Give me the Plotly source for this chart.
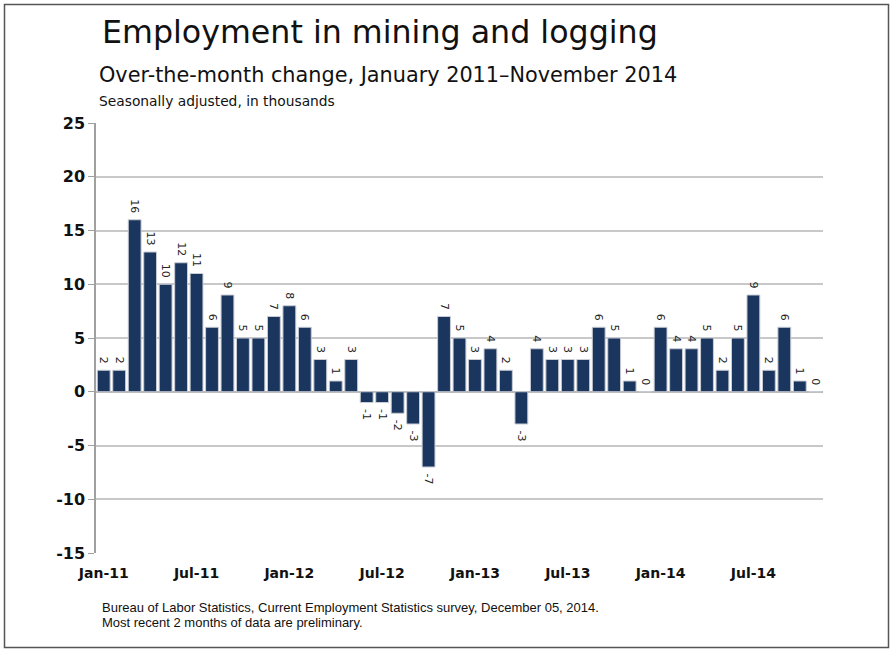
import plotly.graph_objects as go

months = ["Jan-11","Feb-11","Mar-11","Apr-11","May-11","Jun-11","Jul-11","Aug-11","Sep-11","Oct-11","Nov-11","Dec-11",
          "Jan-12","Feb-12","Mar-12","Apr-12","May-12","Jun-12","Jul-12","Aug-12","Sep-12","Oct-12","Nov-12","Dec-12",
          "Jan-13","Feb-13","Mar-13","Apr-13","May-13","Jun-13","Jul-13","Aug-13","Sep-13","Oct-13","Nov-13","Dec-13",
          "Jan-14","Feb-14","Mar-14","Apr-14","May-14","Jun-14","Jul-14","Aug-14","Sep-14","Oct-14","Nov-14"]
values = [2, 2, 16, 13, 10, 12, 11, 6, 9, 5, 5, 7,
          8, 6, 3, 1, 3, -1, -1, -2, -3, -7, 7, 5,
          3, 4, 2, -3, 4, 3, 3, 3, 6, 5, 1, 0,
          6, 4, 4, 5, 2, 5, 9, 2, 6, 1, 0]
x_tick_labels = ["Jan-11","Jul-11","Jan-12","Jul-12","Jan-13","Jul-13","Jan-14","Jul-14"]
y_ticks = [-15, -10, -5, 0, 5, 10, 15, 20, 25]
y_tick_text = ["-15", "-10", "-5", "0", "5", "10", "15", "20", "25"]

W, H = 895, 653
L, R, T, B = 96, 823, 123, 553

def px(x):
    return (x - L) / (R - L)

def py(y):
    return (B - y) / (B - T)

NB = "\u00a0"
bar_text = [(f"{v}{NB}" if v >= 0 else f"{NB}{v}") for v in values]

fig = go.Figure(go.Bar(
    x=months, y=values,
    marker=dict(color="#1a365e", line=dict(color="#c8ccd4", width=1)),
    text=bar_text, textposition="outside", textangle=90, constraintext="none",
    textfont=dict(family="DejaVu Sans", size=11, color="#222"),
    cliponaxis=False,
))

fig.update_layout(
    width=W, height=H,
    margin=dict(l=L, r=W - R, t=T, b=H - B),
    paper_bgcolor="white", plot_bgcolor="white",
    bargap=0.17, showlegend=False,
    font=dict(family="DejaVu Sans", color="#111"),
    xaxis=dict(type="category", tickmode="array", tickvals=x_tick_labels, ticktext=x_tick_labels,
               tickfont=dict(family="DejaVu Sans", size=14, color="#111", weight="bold"),
               showgrid=False, ticks="", showline=False, tickangle=0, ticklabelstandoff=10),
    yaxis=dict(range=[-15, 25], tickvals=y_ticks, ticktext=y_tick_text, ticks="outside", ticklen=6,
               tickcolor="#a0a0a0",
               tickfont=dict(family="DejaVu Sans", size=16, color="#111", weight="bold"),
               showgrid=True, gridcolor="#c8c8c8", gridwidth=1.5,
               zeroline=True, zerolinecolor="#b8b8b8", zerolinewidth=1.5,
               showline=True, linecolor="#a0a0a0", linewidth=1.5),
)

annos = [
    dict(text="Employment in mining and logging", x=px(100), y=py(32), size=31.7),
    dict(text="Over-the-month change, January 2011\u2013November 2014", x=px(97), y=py(75), size=20.8),
    dict(text="Seasonally adjusted, in thousands", x=px(97), y=py(101), size=13.8),
    dict(text="Bureau of Labor Statistics, Current Employment Statistics survey, December 05, 2014.", x=px(100), y=py(607), size=13, fam="Liberation Sans"),
    dict(text="Most recent 2 months of data are preliminary.", x=px(100), y=py(622), size=13, fam="Liberation Sans"),
]
for a in annos:
    fig.add_annotation(text=a["text"], x=a["x"], y=a["y"], xref="paper", yref="paper",
                       xanchor="left", yanchor="middle", showarrow=False,
                       font=dict(family=a.get("fam", "DejaVu Sans"), size=a["size"], color="#111"))

fig.add_shape(type="rect", xref="paper", yref="paper",
              x0=px(4.5), x1=px(888.5), y0=py(647.5), y1=py(4.5),
              line=dict(color="#555", width=1.5), layer="below")

fig.write_html("out.html", config={"displayModeBar": False},
               post_script="document.body.style.margin='0';document.body.style.overflow='hidden';")
